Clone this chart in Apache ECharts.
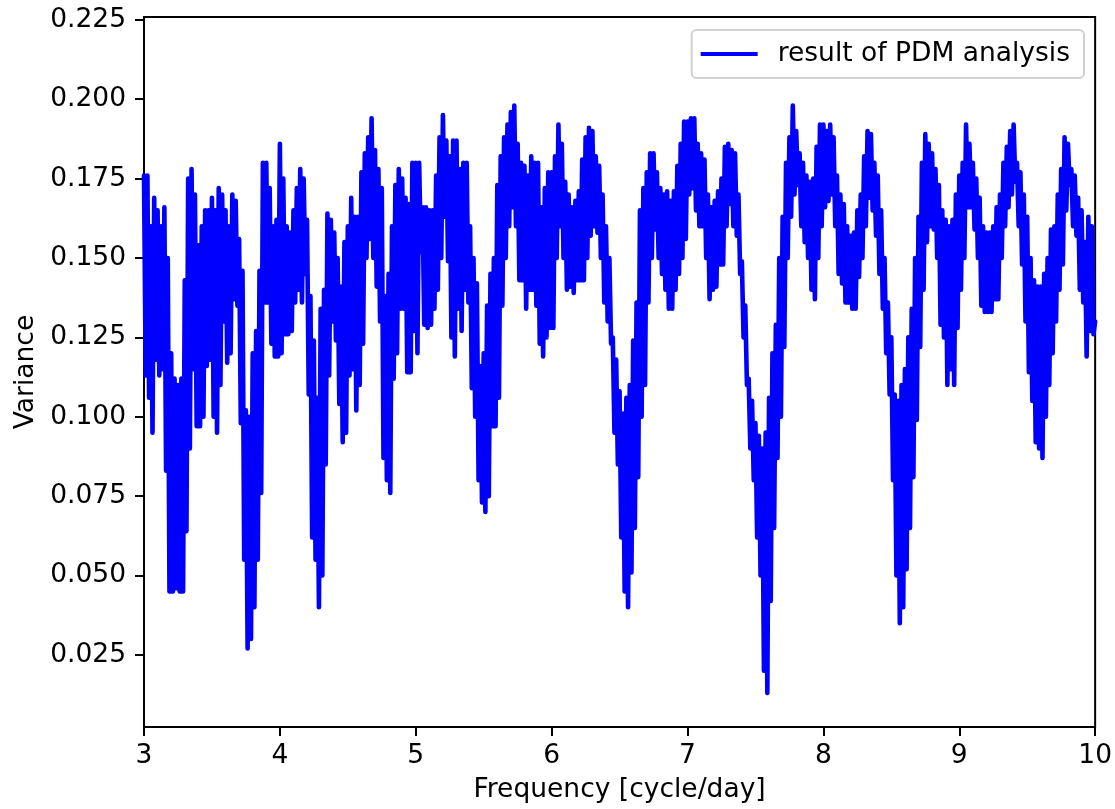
<!DOCTYPE html>
<html>
<head>
<meta charset="utf-8">
<script src="https://cdn.jsdelivr.net/npm/echarts@6/dist/echarts.min.js"></script>
<style>
html,body{margin:0;padding:0;background:#fff;}
#chart{width:1115px;height:809px;}
</style>
</head>
<body>
<div id="chart"></div>
<script>
// Frequency sampling grid (cycle/day): each 0.025 step holds one local high and one local low
const freqStart = 3.0;
const stepWidth = 0.025;
// upper excursions of the PDM variance, one per 0.025 step (3.000 ... 9.975), 10 per row = 0.25 cycle/day
const highVals = [
0.176,0.176,0.160,0.169,0.165,0.160,0.166,0.150,0.120,0.112,
0.110,0.112,0.143,0.175,0.178,0.170,0.154,0.160,0.165,0.165,
0.169,0.165,0.172,0.170,0.165,0.160,0.170,0.168,0.156,0.146,
0.102,0.100,0.120,0.127,0.146,0.180,0.180,0.172,0.160,0.162,
0.186,0.175,0.160,0.158,0.165,0.172,0.178,0.175,0.162,0.138,
0.124,0.106,0.134,0.140,0.164,0.162,0.158,0.150,0.141,0.155,
0.160,0.169,0.163,0.163,0.177,0.183,0.188,0.194,0.184,0.178,
0.172,0.138,0.145,0.160,0.173,0.178,0.175,0.169,0.167,0.180,
0.180,0.180,0.166,0.166,0.165,0.165,0.176,0.188,0.195,0.187,
0.182,0.187,0.187,0.178,0.180,0.180,0.160,0.150,0.142,0.116,
0.120,0.135,0.145,0.150,0.173,0.182,0.188,0.192,0.196,0.198,
0.186,0.180,0.179,0.176,0.182,0.180,0.180,0.166,0.172,0.177,
0.177,0.182,0.192,0.186,0.174,0.170,0.166,0.168,0.171,0.181,
0.188,0.191,0.190,0.182,0.179,0.170,0.160,0.150,0.125,0.118,
0.108,0.101,0.106,0.110,0.124,0.136,0.165,0.172,0.177,0.183,
0.183,0.177,0.172,0.170,0.171,0.168,0.171,0.179,0.186,0.193,
0.193,0.194,0.194,0.186,0.183,0.181,0.170,0.166,0.168,0.171,
0.175,0.185,0.186,0.184,0.183,0.170,0.149,0.135,0.112,0.105,
0.098,0.094,0.090,0.095,0.106,0.120,0.129,0.150,0.163,0.180,
0.188,0.198,0.190,0.183,0.180,0.176,0.174,0.175,0.185,0.192,
0.192,0.190,0.192,0.188,0.176,0.170,0.167,0.160,0.157,0.158,
0.165,0.170,0.182,0.190,0.189,0.180,0.176,0.165,0.150,0.136,
0.125,0.107,0.105,0.110,0.115,0.125,0.134,0.150,0.163,0.180,
0.189,0.186,0.183,0.178,0.173,0.165,0.162,0.160,0.162,0.170,
0.176,0.180,0.192,0.186,0.180,0.175,0.169,0.160,0.158,0.158,
0.160,0.166,0.170,0.180,0.185,0.190,0.192,0.180,0.177,0.170,
0.163,0.150,0.143,0.141,0.141,0.145,0.150,0.159,0.160,0.170,
0.178,0.188,0.186,0.178,0.176,0.169,0.165,0.155,0.163,0.160
];
// lower excursions, one per 0.025 step
const lowVals = [
0.113,0.106,0.095,0.118,0.113,0.115,0.083,0.045,0.045,0.046,
0.045,0.045,0.064,0.090,0.115,0.097,0.097,0.100,0.116,0.118,
0.100,0.095,0.110,0.130,0.117,0.120,0.137,0.135,0.098,0.055,
0.027,0.030,0.040,0.055,0.076,0.136,0.136,0.123,0.119,0.119,
0.120,0.126,0.126,0.127,0.136,0.140,0.136,0.145,0.107,0.062,
0.055,0.040,0.050,0.085,0.113,0.130,0.124,0.104,0.092,0.095,
0.113,0.115,0.102,0.110,0.123,0.150,0.156,0.150,0.141,0.130,
0.087,0.080,0.076,0.112,0.120,0.134,0.134,0.114,0.114,0.127,
0.120,0.152,0.129,0.128,0.129,0.134,0.140,0.150,0.163,0.149,
0.125,0.119,0.134,0.127,0.140,0.136,0.109,0.100,0.080,0.073,
0.070,0.075,0.097,0.097,0.106,0.135,0.150,0.160,0.166,0.160,
0.143,0.143,0.134,0.140,0.140,0.135,0.123,0.119,0.125,0.128,
0.128,0.150,0.160,0.150,0.140,0.141,0.139,0.143,0.143,0.143,
0.150,0.157,0.160,0.158,0.150,0.136,0.130,0.123,0.095,0.085,
0.062,0.045,0.040,0.051,0.065,0.081,0.100,0.110,0.136,0.150,
0.159,0.150,0.145,0.140,0.134,0.134,0.140,0.145,0.150,0.156,
0.170,0.172,0.165,0.160,0.160,0.150,0.137,0.140,0.141,0.148,
0.148,0.160,0.167,0.160,0.157,0.145,0.125,0.110,0.090,0.080,
0.062,0.050,0.020,0.013,0.042,0.065,0.087,0.100,0.122,0.150,
0.163,0.170,0.173,0.160,0.155,0.150,0.140,0.137,0.150,0.160,
0.166,0.168,0.170,0.160,0.145,0.142,0.136,0.136,0.134,0.134,
0.144,0.150,0.160,0.169,0.165,0.157,0.145,0.134,0.120,0.107,
0.080,0.050,0.035,0.040,0.052,0.065,0.081,0.099,0.122,0.140,
0.155,0.160,0.159,0.150,0.129,0.125,0.110,0.115,0.110,0.128,
0.140,0.150,0.166,0.166,0.159,0.150,0.135,0.133,0.133,0.133,
0.137,0.137,0.150,0.160,0.166,0.170,0.174,0.160,0.148,0.130,
0.114,0.105,0.092,0.090,0.087,0.100,0.110,0.120,0.130,0.140,
0.148,0.165,0.173,0.160,0.157,0.140,0.136,0.119,0.127,0.126
];
const endFreq = 10.0;
const endVal = 0.130;
const yTicks = [0.025,0.050,0.075,0.100,0.125,0.150,0.175,0.200,0.225];
const xTicks = [3,4,5,6,7,8,9,10];

const seriesData = [];
for (let i = 0; i < highVals.length; i++) {
  const f = freqStart + i * stepWidth;
  seriesData.push([+f.toFixed(5), highVals[i]]);
  seriesData.push([+(f + stepWidth / 2).toFixed(5), lowVals[i]]);
}
seriesData.push([endFreq, endVal]);

const FONT = 'DejaVu Sans';
const FS = 26.5;
const chart = echarts.init(document.getElementById('chart'), null, {renderer: 'canvas'});
chart.setOption({
  backgroundColor: '#ffffff',
  animation: false,
  grid: {
    left: 144, right: 18, top: 17, bottom: 82,
    show: true, borderColor: '#000', borderWidth: 2, backgroundColor: 'transparent'
  },
  legend: {
    show: true,
    right: 31, top: 30,
    orient: 'horizontal',
    data: ['result of PDM analysis'],
    icon: 'rect',
    itemWidth: 57, itemHeight: 4,
    padding: [10, 14, 10, 9],
    borderColor: '#d0d0d0', borderWidth: 2, borderRadius: 5,
    backgroundColor: '#ffffff',
    textStyle: {fontFamily: FONT, fontSize: FS, color: '#000', padding: [0, 0, 0, 15], lineHeight: 28}
  },
  xAxis: {
    type: 'value',
    min: 3, max: 10, interval: 1,
    name: 'Frequency [cycle/day]',
    nameLocation: 'middle', nameGap: 50,
    nameTextStyle: {fontFamily: FONT, fontSize: FS, color: '#000'},
    axisLine: {show: true, onZero: false, lineStyle: {color: '#000', width: 2}},
    axisTick: {show: true, inside: false, length: 9, lineStyle: {color: '#000', width: 2}},
    axisLabel: {show: true, margin: 16, fontFamily: FONT, fontSize: FS, color: '#000',
      customValues: xTicks, formatter: v => String(Math.round(v))},
    splitLine: {show: false}
  },
  yAxis: {
    type: 'value',
    min: 0.0023, max: 0.2259,
    name: 'Variance',
    nameLocation: 'middle', nameGap: 104, nameRotate: 90,
    nameTextStyle: {fontFamily: FONT, fontSize: FS, color: '#000'},
    axisLine: {show: true, onZero: false, lineStyle: {color: '#000', width: 2}},
    axisTick: {show: true, inside: false, length: 9, lineStyle: {color: '#000', width: 2}, customValues: yTicks},
    axisLabel: {show: true, margin: 18, fontFamily: FONT, fontSize: FS, color: '#000',
      customValues: yTicks, formatter: v => v.toFixed(3)},
    splitLine: {show: false}
  },
  series: [{
    name: 'result of PDM analysis',
    type: 'line',
    data: seriesData,
    showSymbol: false,
    symbol: 'none',
    clip: true,
    sampling: null,
    lineStyle: {color: '#0000ff', width: 4.6, join: 'round', cap: 'round'},
    itemStyle: {color: '#0000ff'}
  }]
});
</script>
</body>
</html>
